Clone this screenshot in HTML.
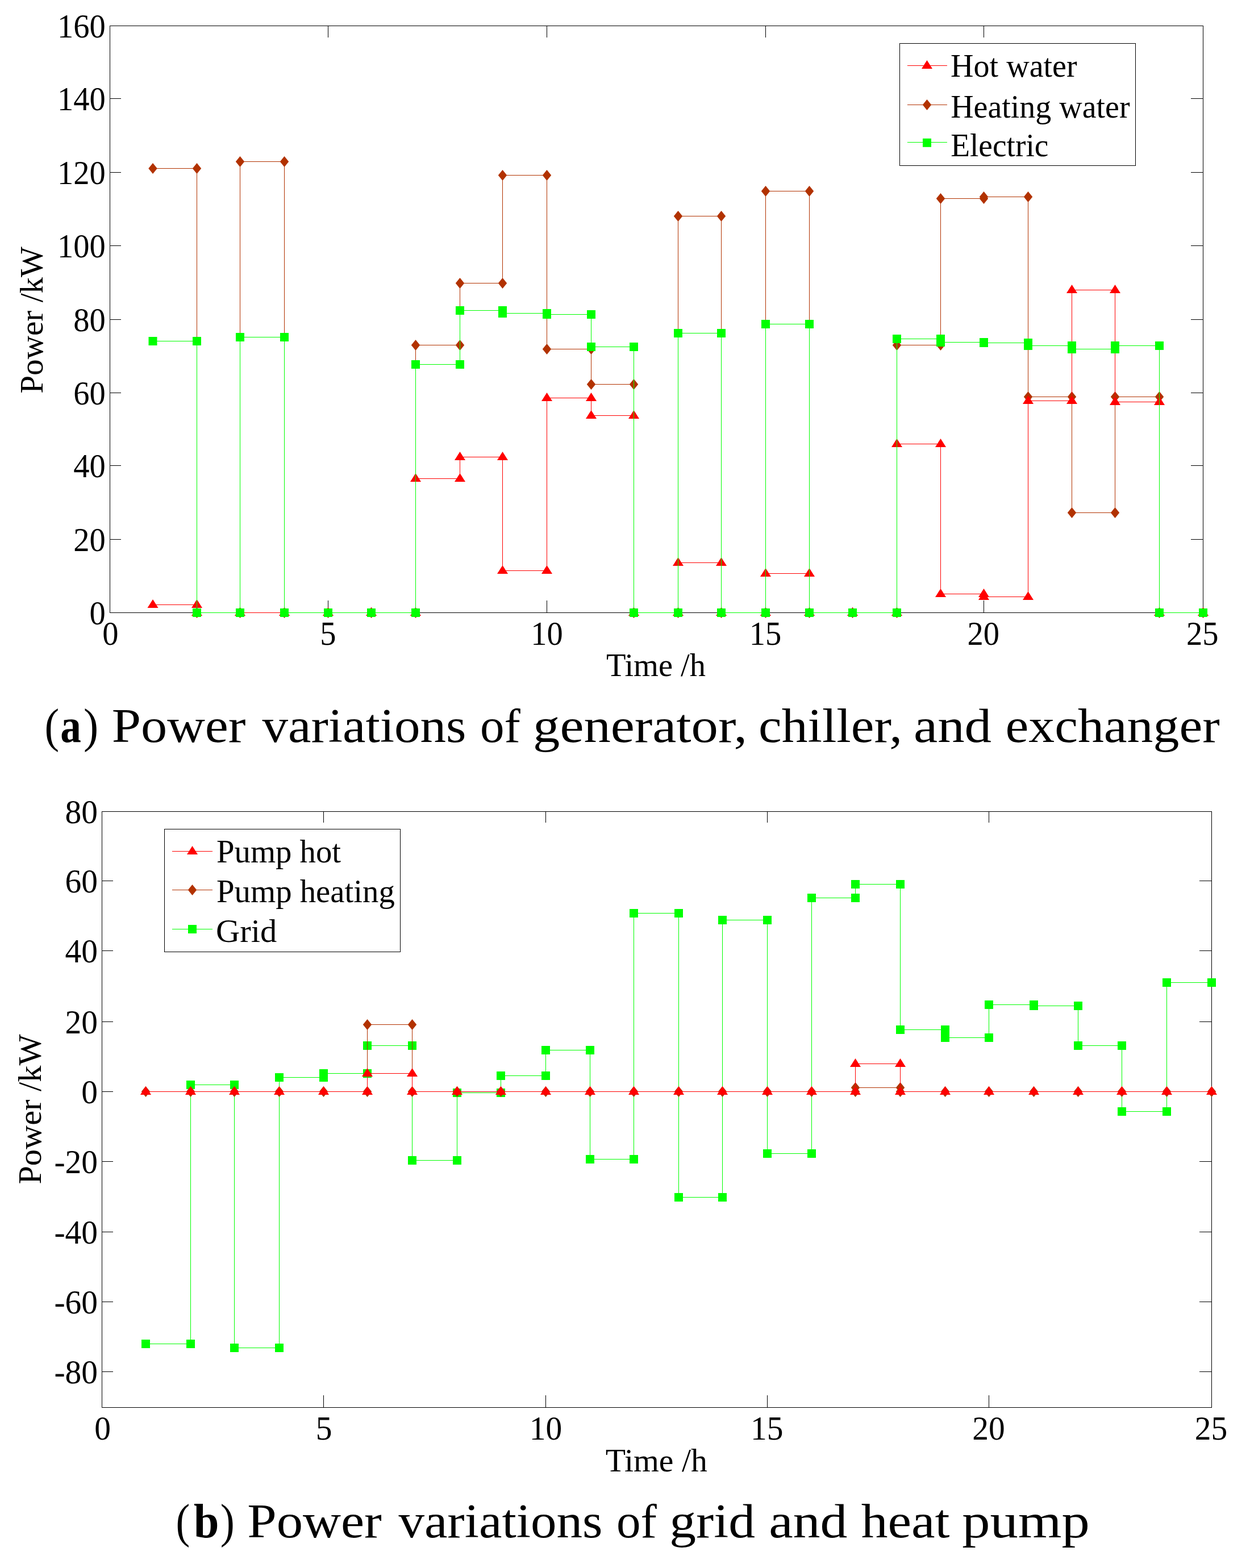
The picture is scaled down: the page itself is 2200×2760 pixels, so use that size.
<!DOCTYPE html>
<html lang="en">
<head>
<meta charset="utf-8">
<title>Power variations</title>
<style>
html,body{margin:0;padding:0;background:#fff;}
body{width:2200px;height:2760px;}
svg{display:block;}
text{white-space:pre;}
</style>
</head>
<body>
<svg width="2200" height="2760" viewBox="0 0 2200 2760">
<rect width="2200" height="2760" fill="#fff"/>
<g id="chart-a">
<g stroke="#000" stroke-width="1" fill="none">
<rect x="193.5" y="45.5" width="1924" height="1033"/>
<path d="M577.5 45.5v20.5M577.5 1078.5v-21.5M962.5 45.5v20.5M962.5 1078.5v-21.5M1347.5 45.5v20.5M1347.5 1078.5v-21.5M1731.5 45.5v20.5M1731.5 1078.5v-21.5M193.5 173.5h19.5M2117.5 173.5h-21.5M193.5 303.5h19.5M2117.5 303.5h-21.5M193.5 432.5h19.5M2117.5 432.5h-21.5M193.5 562.5h19.5M2117.5 562.5h-21.5M193.5 691.5h19.5M2117.5 691.5h-21.5M193.5 819.5h19.5M2117.5 819.5h-21.5M193.5 949.5h19.5M2117.5 949.5h-21.5"/>
</g>
<g font-family="'Liberation Serif', serif" font-size="56.5" fill="#000">
<text x="101.02" y="0" transform="translate(0 66) scale(1 1.03)">160</text>
<text x="101.02" y="0" transform="translate(0 194) scale(1 1.03)">140</text>
<text x="101.02" y="0" transform="translate(0 324) scale(1 1.03)">120</text>
<text x="101.02" y="0" transform="translate(0 453) scale(1 1.03)">100</text>
<text x="129.27" y="0" transform="translate(0 583) scale(1 1.03)">80</text>
<text x="129.27" y="0" transform="translate(0 712) scale(1 1.03)">60</text>
<text x="129.27" y="0" transform="translate(0 840) scale(1 1.03)">40</text>
<text x="129.27" y="0" transform="translate(0 970) scale(1 1.03)">20</text>
<text x="157.52" y="0" transform="translate(0 1099) scale(1 1.03)">0</text>
<text x="180.28" y="0" transform="translate(0 1135.45) scale(1 1.03)">0</text>
<text x="563.23" y="0" transform="translate(0 1135.45) scale(1 1.03)">5</text>
<text x="934.28" y="0" transform="translate(0 1135.45) scale(1 1.03)">10</text>
<text x="1318.73" y="0" transform="translate(0 1135.45) scale(1 1.03)">15</text>
<text x="1702.55" y="0" transform="translate(0 1135.45) scale(1 1.03)">20</text>
<text x="2088.1" y="0" transform="translate(0 1135.45) scale(1 1.03)">25</text>
<text x="1066.92" y="1190" textLength="175.08" lengthAdjust="spacingAndGlyphs">Time /h</text>
<text transform="translate(74.9 692.69) rotate(-90)" textLength="258.76" lengthAdjust="spacingAndGlyphs">Power /kW</text>
</g>
<polyline points="269,296.5 346.5,296.5 346.5,1078.5 422.5,1078.5 422.5,284.5 500.5,284.5 500.5,1078.5 577.5,1078.5 653.5,1078.5 731.5,1078.5 731.5,607.5 809.5,607.5 809.5,498.5 884.5,498.5 884.5,308.5 962.5,308.5 962.5,614.5 1040.5,614.5 1040.5,676.5 1115.5,676.5 1115.5,1078.5 1193.5,1078.5 1193.5,380.5 1269.5,380.5 1269.5,1078.5 1347.5,1078.5 1347.5,336.5 1424.5,336.5 1424.5,1078.5 1500.5,1078.5 1578.5,1078.5 1578.5,607.5 1655.5,607.5 1655.5,349.5 1731.5,349.5 1731.5,346.5 1809.5,346.5 1809.5,698.5 1886.5,698.5 1886.5,902.5 1962.5,902.5 1962.5,698.5 2040.5,698.5 2040.5,1078.5 2117.5,1078.5" fill="none" stroke="#b23200" stroke-width="1"/>
<g fill="#b23200"><path d="M269 286.9l7.7 9.5l-7.7 9.5l-7.7 -9.5z"/><path d="M346.5 286.9l7.7 9.5l-7.7 9.5l-7.7 -9.5z"/><path d="M346.5 1068.9l7.7 9.5l-7.7 9.5l-7.7 -9.5z"/><path d="M422.5 1068.9l7.7 9.5l-7.7 9.5l-7.7 -9.5z"/><path d="M422.5 274.9l7.7 9.5l-7.7 9.5l-7.7 -9.5z"/><path d="M500.5 274.9l7.7 9.5l-7.7 9.5l-7.7 -9.5z"/><path d="M500.5 1068.9l7.7 9.5l-7.7 9.5l-7.7 -9.5z"/><path d="M577.5 1068.9l7.7 9.5l-7.7 9.5l-7.7 -9.5z"/><path d="M653.5 1068.9l7.7 9.5l-7.7 9.5l-7.7 -9.5z"/><path d="M731.5 1068.9l7.7 9.5l-7.7 9.5l-7.7 -9.5z"/><path d="M731.5 597.9l7.7 9.5l-7.7 9.5l-7.7 -9.5z"/><path d="M809.5 597.9l7.7 9.5l-7.7 9.5l-7.7 -9.5z"/><path d="M809.5 488.9l7.7 9.5l-7.7 9.5l-7.7 -9.5z"/><path d="M884.5 488.9l7.7 9.5l-7.7 9.5l-7.7 -9.5z"/><path d="M884.5 298.9l7.7 9.5l-7.7 9.5l-7.7 -9.5z"/><path d="M962.5 298.9l7.7 9.5l-7.7 9.5l-7.7 -9.5z"/><path d="M962.5 604.9l7.7 9.5l-7.7 9.5l-7.7 -9.5z"/><path d="M1040.5 604.9l7.7 9.5l-7.7 9.5l-7.7 -9.5z"/><path d="M1040.5 666.9l7.7 9.5l-7.7 9.5l-7.7 -9.5z"/><path d="M1115.5 666.9l7.7 9.5l-7.7 9.5l-7.7 -9.5z"/><path d="M1115.5 1068.9l7.7 9.5l-7.7 9.5l-7.7 -9.5z"/><path d="M1193.5 1068.9l7.7 9.5l-7.7 9.5l-7.7 -9.5z"/><path d="M1193.5 370.9l7.7 9.5l-7.7 9.5l-7.7 -9.5z"/><path d="M1269.5 370.9l7.7 9.5l-7.7 9.5l-7.7 -9.5z"/><path d="M1269.5 1068.9l7.7 9.5l-7.7 9.5l-7.7 -9.5z"/><path d="M1347.5 1068.9l7.7 9.5l-7.7 9.5l-7.7 -9.5z"/><path d="M1347.5 326.9l7.7 9.5l-7.7 9.5l-7.7 -9.5z"/><path d="M1424.5 326.9l7.7 9.5l-7.7 9.5l-7.7 -9.5z"/><path d="M1424.5 1068.9l7.7 9.5l-7.7 9.5l-7.7 -9.5z"/><path d="M1500.5 1068.9l7.7 9.5l-7.7 9.5l-7.7 -9.5z"/><path d="M1578.5 1068.9l7.7 9.5l-7.7 9.5l-7.7 -9.5z"/><path d="M1578.5 597.9l7.7 9.5l-7.7 9.5l-7.7 -9.5z"/><path d="M1655.5 597.9l7.7 9.5l-7.7 9.5l-7.7 -9.5z"/><path d="M1655.5 339.9l7.7 9.5l-7.7 9.5l-7.7 -9.5z"/><path d="M1731.5 339.9l7.7 9.5l-7.7 9.5l-7.7 -9.5z"/><path d="M1731.5 336.9l7.7 9.5l-7.7 9.5l-7.7 -9.5z"/><path d="M1809.5 336.9l7.7 9.5l-7.7 9.5l-7.7 -9.5z"/><path d="M1809.5 688.9l7.7 9.5l-7.7 9.5l-7.7 -9.5z"/><path d="M1886.5 688.9l7.7 9.5l-7.7 9.5l-7.7 -9.5z"/><path d="M1886.5 892.9l7.7 9.5l-7.7 9.5l-7.7 -9.5z"/><path d="M1962.5 892.9l7.7 9.5l-7.7 9.5l-7.7 -9.5z"/><path d="M1962.5 688.9l7.7 9.5l-7.7 9.5l-7.7 -9.5z"/><path d="M2040.5 688.9l7.7 9.5l-7.7 9.5l-7.7 -9.5z"/><path d="M2040.5 1068.9l7.7 9.5l-7.7 9.5l-7.7 -9.5z"/><path d="M2117.5 1068.9l7.7 9.5l-7.7 9.5l-7.7 -9.5z"/></g>
<polyline points="269,1064.5 346.5,1064.5 346.5,1078.5 422.5,1078.5 500.5,1078.5 577.5,1078.5 653.5,1078.5 731.5,1078.5 731.5,842.5 809.5,842.5 809.5,804.5 884.5,804.5 884.5,1004.5 962.5,1004.5 962.5,700.5 1040.5,700.5 1040.5,731.5 1115.5,731.5 1115.5,1078.5 1193.5,1078.5 1193.5,990.5 1269.5,990.5 1269.5,1078.5 1347.5,1078.5 1347.5,1009.5 1424.5,1009.5 1424.5,1078.5 1500.5,1078.5 1578.5,1078.5 1578.5,781.5 1655.5,781.5 1655.5,1045.5 1731.5,1045.5 1731.5,1050.5 1809.5,1050.5 1809.5,705.5 1886.5,705.5 1886.5,510.5 1962.5,510.5 1962.5,707.5 2040.5,707.5 2040.5,1078.5 2117.5,1078.5" fill="none" stroke="#fff" stroke-width="1"/>
<polyline points="269,1064.5 346.5,1064.5 346.5,1078.5 422.5,1078.5 500.5,1078.5 577.5,1078.5 653.5,1078.5 731.5,1078.5 731.5,842.5 809.5,842.5 809.5,804.5 884.5,804.5 884.5,1004.5 962.5,1004.5 962.5,700.5 1040.5,700.5 1040.5,731.5 1115.5,731.5 1115.5,1078.5 1193.5,1078.5 1193.5,990.5 1269.5,990.5 1269.5,1078.5 1347.5,1078.5 1347.5,1009.5 1424.5,1009.5 1424.5,1078.5 1500.5,1078.5 1578.5,1078.5 1578.5,781.5 1655.5,781.5 1655.5,1045.5 1731.5,1045.5 1731.5,1050.5 1809.5,1050.5 1809.5,705.5 1886.5,705.5 1886.5,510.5 1962.5,510.5 1962.5,707.5 2040.5,707.5 2040.5,1078.5 2117.5,1078.5" fill="none" stroke="#ff0000" stroke-width="1"/>
<g fill="#ff0000"><path d="M269 1055.1l9.5 14.8h-19z"/><path d="M346.5 1055.1l9.5 14.8h-19z"/><path d="M346.5 1069.1l9.5 14.8h-19z"/><path d="M422.5 1069.1l9.5 14.8h-19z"/><path d="M500.5 1069.1l9.5 14.8h-19z"/><path d="M577.5 1069.1l9.5 14.8h-19z"/><path d="M653.5 1069.1l9.5 14.8h-19z"/><path d="M731.5 1069.1l9.5 14.8h-19z"/><path d="M731.5 833.1l9.5 14.8h-19z"/><path d="M809.5 833.1l9.5 14.8h-19z"/><path d="M809.5 795.1l9.5 14.8h-19z"/><path d="M884.5 795.1l9.5 14.8h-19z"/><path d="M884.5 995.1l9.5 14.8h-19z"/><path d="M962.5 995.1l9.5 14.8h-19z"/><path d="M962.5 691.1l9.5 14.8h-19z"/><path d="M1040.5 691.1l9.5 14.8h-19z"/><path d="M1040.5 722.1l9.5 14.8h-19z"/><path d="M1115.5 722.1l9.5 14.8h-19z"/><path d="M1115.5 1069.1l9.5 14.8h-19z"/><path d="M1193.5 1069.1l9.5 14.8h-19z"/><path d="M1193.5 981.1l9.5 14.8h-19z"/><path d="M1269.5 981.1l9.5 14.8h-19z"/><path d="M1269.5 1069.1l9.5 14.8h-19z"/><path d="M1347.5 1069.1l9.5 14.8h-19z"/><path d="M1347.5 1000.1l9.5 14.8h-19z"/><path d="M1424.5 1000.1l9.5 14.8h-19z"/><path d="M1424.5 1069.1l9.5 14.8h-19z"/><path d="M1500.5 1069.1l9.5 14.8h-19z"/><path d="M1578.5 1069.1l9.5 14.8h-19z"/><path d="M1578.5 772.1l9.5 14.8h-19z"/><path d="M1655.5 772.1l9.5 14.8h-19z"/><path d="M1655.5 1036.1l9.5 14.8h-19z"/><path d="M1731.5 1036.1l9.5 14.8h-19z"/><path d="M1731.5 1041.1l9.5 14.8h-19z"/><path d="M1809.5 1041.1l9.5 14.8h-19z"/><path d="M1809.5 696.1l9.5 14.8h-19z"/><path d="M1886.5 696.1l9.5 14.8h-19z"/><path d="M1886.5 501.1l9.5 14.8h-19z"/><path d="M1962.5 501.1l9.5 14.8h-19z"/><path d="M1962.5 698.1l9.5 14.8h-19z"/><path d="M2040.5 698.1l9.5 14.8h-19z"/><path d="M2040.5 1069.1l9.5 14.8h-19z"/><path d="M2117.5 1069.1l9.5 14.8h-19z"/></g>
<polyline points="269,600.5 346.5,600.5 346.5,1078.5 422.5,1078.5 422.5,593.5 500.5,593.5 500.5,1078.5 577.5,1078.5 653.5,1078.5 731.5,1078.5 731.5,641.5 809.5,641.5 809.5,546.5 884.5,546.5 884.5,551.5 962.5,551.5 962.5,553.5 1040.5,553.5 1040.5,610.5 1115.5,610.5 1115.5,1078.5 1193.5,1078.5 1193.5,586.5 1269.5,586.5 1269.5,1078.5 1347.5,1078.5 1347.5,570.5 1424.5,570.5 1424.5,1078.5 1500.5,1078.5 1578.5,1078.5 1578.5,596.5 1655.5,596.5 1655.5,602.5 1731.5,602.5 1731.5,603.5 1809.5,603.5 1809.5,608.5 1886.5,608.5 1886.5,614.5 1962.5,614.5 1962.5,608.5 2040.5,608.5 2040.5,1078.5 2117.5,1078.5" fill="none" stroke="#fff" stroke-width="1"/>
<polyline points="269,600.5 346.5,600.5 346.5,1078.5 422.5,1078.5 422.5,593.5 500.5,593.5 500.5,1078.5 577.5,1078.5 653.5,1078.5 731.5,1078.5 731.5,641.5 809.5,641.5 809.5,546.5 884.5,546.5 884.5,551.5 962.5,551.5 962.5,553.5 1040.5,553.5 1040.5,610.5 1115.5,610.5 1115.5,1078.5 1193.5,1078.5 1193.5,586.5 1269.5,586.5 1269.5,1078.5 1347.5,1078.5 1347.5,570.5 1424.5,570.5 1424.5,1078.5 1500.5,1078.5 1578.5,1078.5 1578.5,596.5 1655.5,596.5 1655.5,602.5 1731.5,602.5 1731.5,603.5 1809.5,603.5 1809.5,608.5 1886.5,608.5 1886.5,614.5 1962.5,614.5 1962.5,608.5 2040.5,608.5 2040.5,1078.5 2117.5,1078.5" fill="none" stroke="#00ff00" stroke-width="1"/>
<g fill="#00ff00"><rect x="261.5" y="593" width="15" height="15"/><rect x="339" y="593" width="15" height="15"/><rect x="339" y="1071" width="15" height="15"/><rect x="415" y="1071" width="15" height="15"/><rect x="415" y="586" width="15" height="15"/><rect x="493" y="586" width="15" height="15"/><rect x="493" y="1071" width="15" height="15"/><rect x="570" y="1071" width="15" height="15"/><rect x="646" y="1071" width="15" height="15"/><rect x="724" y="1071" width="15" height="15"/><rect x="724" y="634" width="15" height="15"/><rect x="802" y="634" width="15" height="15"/><rect x="802" y="539" width="15" height="15"/><rect x="877" y="539" width="15" height="15"/><rect x="877" y="544" width="15" height="15"/><rect x="955" y="544" width="15" height="15"/><rect x="955" y="546" width="15" height="15"/><rect x="1033" y="546" width="15" height="15"/><rect x="1033" y="603" width="15" height="15"/><rect x="1108" y="603" width="15" height="15"/><rect x="1108" y="1071" width="15" height="15"/><rect x="1186" y="1071" width="15" height="15"/><rect x="1186" y="579" width="15" height="15"/><rect x="1262" y="579" width="15" height="15"/><rect x="1262" y="1071" width="15" height="15"/><rect x="1340" y="1071" width="15" height="15"/><rect x="1340" y="563" width="15" height="15"/><rect x="1417" y="563" width="15" height="15"/><rect x="1417" y="1071" width="15" height="15"/><rect x="1493" y="1071" width="15" height="15"/><rect x="1571" y="1071" width="15" height="15"/><rect x="1571" y="589" width="15" height="15"/><rect x="1648" y="589" width="15" height="15"/><rect x="1648" y="595" width="15" height="15"/><rect x="1724" y="595" width="15" height="15"/><rect x="1724" y="596" width="15" height="15"/><rect x="1802" y="596" width="15" height="15"/><rect x="1802" y="601" width="15" height="15"/><rect x="1879" y="601" width="15" height="15"/><rect x="1879" y="607" width="15" height="15"/><rect x="1955" y="607" width="15" height="15"/><rect x="1955" y="601" width="15" height="15"/><rect x="2033" y="601" width="15" height="15"/><rect x="2033" y="1071" width="15" height="15"/><rect x="2110" y="1071" width="15" height="15"/></g>
<rect x="1583.5" y="76.5" width="415" height="215" fill="#fff" stroke="#000" stroke-width="1"/>
<path d="M1597 115.5H1667" stroke="#ff0000" stroke-width="1"/>
<g fill="#ff0000"><path d="M1631.5 106.1l9.5 14.8h-19z"/></g>
<path d="M1597 184.5H1667" stroke="#b23200" stroke-width="1"/>
<g fill="#b23200"><path d="M1631.5 174.9l7.7 9.5l-7.7 9.5l-7.7 -9.5z"/></g>
<path d="M1597 250.5H1667" stroke="#00ff00" stroke-width="1"/>
<g fill="#00ff00"><rect x="1624" y="243.8" width="15" height="15"/></g>
<g font-family="'Liberation Serif', serif" font-size="56.5" fill="#000">
<text x="1673.12" y="135.35" textLength="222.55" lengthAdjust="spacingAndGlyphs">Hot water</text>
<text x="1673.13" y="206.75" textLength="315.45" lengthAdjust="spacingAndGlyphs">Heating water</text>
<text x="1673.13" y="274.75" textLength="172.28" lengthAdjust="spacingAndGlyphs">Electric</text>
</g>
</g>
<text y="1306.1" font-family="'Liberation Serif', serif" font-size="84" fill="#000"><tspan x="78.59" textLength="25.69" lengthAdjust="spacingAndGlyphs">(</tspan><tspan x="106.21" textLength="36.59" lengthAdjust="spacingAndGlyphs" font-weight="bold">a</tspan><tspan x="146.94" textLength="26.2" lengthAdjust="spacingAndGlyphs">)</tspan> <tspan x="196.66" textLength="235.89" lengthAdjust="spacingAndGlyphs">Power</tspan> <tspan x="461.5" textLength="359.01" lengthAdjust="spacingAndGlyphs">variations</tspan> <tspan x="845.04" textLength="70.84" lengthAdjust="spacingAndGlyphs">of</tspan> <tspan x="938.14" textLength="377.17" lengthAdjust="spacingAndGlyphs">generator,</tspan> <tspan x="1335.14" textLength="252.98" lengthAdjust="spacingAndGlyphs">chiller,</tspan> <tspan x="1608.03" textLength="137.07" lengthAdjust="spacingAndGlyphs">and</tspan> <tspan x="1769.53" textLength="377.22" lengthAdjust="spacingAndGlyphs">exchanger</tspan></text>
<g id="chart-b">
<g stroke="#000" stroke-width="1" fill="none">
<rect x="179.5" y="1428.5" width="1953" height="1049"/>
<path d="M569.5 1428.5v19.5M569.5 2477.5v-21.5M960.5 1428.5v19.5M960.5 2477.5v-21.5M1350.5 1428.5v19.5M1350.5 2477.5v-21.5M1740.5 1428.5v19.5M1740.5 2477.5v-21.5M179.5 1550.5h19.5M2132.5 1550.5h-21.5M179.5 1673.5h19.5M2132.5 1673.5h-21.5M179.5 1798.5h19.5M2132.5 1798.5h-21.5M179.5 1921.5h19.5M2132.5 1921.5h-21.5M179.5 2044.5h19.5M2132.5 2044.5h-21.5M179.5 2168.5h19.5M2132.5 2168.5h-21.5M179.5 2291.5h19.5M2132.5 2291.5h-21.5M179.5 2414.5h19.5M2132.5 2414.5h-21.5"/>
</g>
<g font-family="'Liberation Serif', serif" font-size="57.5" fill="#000">
<text x="114.6" y="0" transform="translate(0 1448.8) scale(1 1.03)">80</text>
<text x="114.6" y="0" transform="translate(0 1570.8) scale(1 1.03)">60</text>
<text x="114.6" y="0" transform="translate(0 1693.8) scale(1 1.03)">40</text>
<text x="114.6" y="0" transform="translate(0 1818.8) scale(1 1.03)">20</text>
<text x="143.35" y="0" transform="translate(0 1941.8) scale(1 1.03)">0</text>
<text x="95.45" y="0" transform="translate(0 2064.8) scale(1 1.03)">-20</text>
<text x="95.45" y="0" transform="translate(0 2188.8) scale(1 1.03)">-40</text>
<text x="95.45" y="0" transform="translate(0 2311.8) scale(1 1.03)">-60</text>
<text x="95.45" y="0" transform="translate(0 2434.8) scale(1 1.03)">-80</text>
<text x="166.22" y="0" transform="translate(0 2534.15) scale(1 1.03)">0</text>
<text x="555.68" y="0" transform="translate(0 2534.15) scale(1 1.03)">5</text>
<text x="931.85" y="0" transform="translate(0 2534.15) scale(1 1.03)">10</text>
<text x="1321.05" y="0" transform="translate(0 2534.15) scale(1 1.03)">15</text>
<text x="1711.35" y="0" transform="translate(0 2534.15) scale(1 1.03)">20</text>
<text x="2102.75" y="0" transform="translate(0 2534.15) scale(1 1.03)">25</text>
<text x="1065.7" y="2590" textLength="179.1" lengthAdjust="spacingAndGlyphs">Time /h</text>
<text transform="translate(72.3 2084.61) rotate(-90)" textLength="264.07" lengthAdjust="spacingAndGlyphs">Power /kW</text>
</g>
<polyline points="256.5,2365.5 335.5,2365.5 335.5,1909.5 412.5,1909.5 412.5,2372.5 491.5,2372.5 491.5,1896.5 569.5,1896.5 569.5,1889.5 646.5,1889.5 646.5,1840.5 725.5,1840.5 725.5,2042.5 804.5,2042.5 804.5,1923.5 881.5,1923.5 881.5,1893.5 960.5,1893.5 960.5,1848.5 1038.5,1848.5 1038.5,2040.5 1115.5,2040.5 1115.5,1607.5 1194.5,1607.5 1194.5,2107.5 1271.5,2107.5 1271.5,1619.5 1350.5,1619.5 1350.5,2030.5 1428.5,2030.5 1428.5,1580.5 1505.5,1580.5 1505.5,1556.5 1584.5,1556.5 1584.5,1812.5 1663.5,1812.5 1663.5,1826.5 1740.5,1826.5 1740.5,1768.5 1819.5,1768.5 1819.5,1770.5 1897.5,1770.5 1897.5,1840.5 1974.5,1840.5 1974.5,1956.5 2053.5,1956.5 2053.5,1729.5 2132.5,1729.5" fill="none" stroke="#00ff00" stroke-width="1"/>
<g fill="#00ff00"><rect x="249" y="2358" width="15" height="15"/><rect x="328" y="2358" width="15" height="15"/><rect x="328" y="1902" width="15" height="15"/><rect x="405" y="1902" width="15" height="15"/><rect x="405" y="2365" width="15" height="15"/><rect x="484" y="2365" width="15" height="15"/><rect x="484" y="1889" width="15" height="15"/><rect x="562" y="1889" width="15" height="15"/><rect x="562" y="1882" width="15" height="15"/><rect x="639" y="1882" width="15" height="15"/><rect x="639" y="1833" width="15" height="15"/><rect x="718" y="1833" width="15" height="15"/><rect x="718" y="2035" width="15" height="15"/><rect x="797" y="2035" width="15" height="15"/><rect x="797" y="1916" width="15" height="15"/><rect x="874" y="1916" width="15" height="15"/><rect x="874" y="1886" width="15" height="15"/><rect x="953" y="1886" width="15" height="15"/><rect x="953" y="1841" width="15" height="15"/><rect x="1031" y="1841" width="15" height="15"/><rect x="1031" y="2033" width="15" height="15"/><rect x="1108" y="2033" width="15" height="15"/><rect x="1108" y="1600" width="15" height="15"/><rect x="1187" y="1600" width="15" height="15"/><rect x="1187" y="2100" width="15" height="15"/><rect x="1264" y="2100" width="15" height="15"/><rect x="1264" y="1612" width="15" height="15"/><rect x="1343" y="1612" width="15" height="15"/><rect x="1343" y="2023" width="15" height="15"/><rect x="1421" y="2023" width="15" height="15"/><rect x="1421" y="1573" width="15" height="15"/><rect x="1498" y="1573" width="15" height="15"/><rect x="1498" y="1549" width="15" height="15"/><rect x="1577" y="1549" width="15" height="15"/><rect x="1577" y="1805" width="15" height="15"/><rect x="1656" y="1805" width="15" height="15"/><rect x="1656" y="1819" width="15" height="15"/><rect x="1733" y="1819" width="15" height="15"/><rect x="1733" y="1761" width="15" height="15"/><rect x="1812" y="1761" width="15" height="15"/><rect x="1812" y="1763" width="15" height="15"/><rect x="1890" y="1763" width="15" height="15"/><rect x="1890" y="1833" width="15" height="15"/><rect x="1967" y="1833" width="15" height="15"/><rect x="1967" y="1949" width="15" height="15"/><rect x="2046" y="1949" width="15" height="15"/><rect x="2046" y="1722" width="15" height="15"/><rect x="2125" y="1722" width="15" height="15"/></g>
<polyline points="256.5,1921.5 335.5,1921.5 412.5,1921.5 491.5,1921.5 569.5,1921.5 646.5,1921.5 646.5,1803.5 725.5,1803.5 725.5,1921.5 804.5,1921.5 881.5,1921.5 960.5,1921.5 1038.5,1921.5 1115.5,1921.5 1194.5,1921.5 1271.5,1921.5 1350.5,1921.5 1428.5,1921.5 1505.5,1921.5 1505.5,1914.5 1584.5,1914.5 1584.5,1921.5 1663.5,1921.5 1740.5,1921.5 1819.5,1921.5 1897.5,1921.5 1974.5,1921.5 2053.5,1921.5 2132.5,1921.5" fill="none" stroke="#fff" stroke-width="1"/>
<polyline points="256.5,1921.5 335.5,1921.5 412.5,1921.5 491.5,1921.5 569.5,1921.5 646.5,1921.5 646.5,1803.5 725.5,1803.5 725.5,1921.5 804.5,1921.5 881.5,1921.5 960.5,1921.5 1038.5,1921.5 1115.5,1921.5 1194.5,1921.5 1271.5,1921.5 1350.5,1921.5 1428.5,1921.5 1505.5,1921.5 1505.5,1914.5 1584.5,1914.5 1584.5,1921.5 1663.5,1921.5 1740.5,1921.5 1819.5,1921.5 1897.5,1921.5 1974.5,1921.5 2053.5,1921.5 2132.5,1921.5" fill="none" stroke="#b23200" stroke-width="1"/>
<g fill="#b23200"><path d="M256.5 1911.9l7.7 9.5l-7.7 9.5l-7.7 -9.5z"/><path d="M335.5 1911.9l7.7 9.5l-7.7 9.5l-7.7 -9.5z"/><path d="M412.5 1911.9l7.7 9.5l-7.7 9.5l-7.7 -9.5z"/><path d="M491.5 1911.9l7.7 9.5l-7.7 9.5l-7.7 -9.5z"/><path d="M569.5 1911.9l7.7 9.5l-7.7 9.5l-7.7 -9.5z"/><path d="M646.5 1911.9l7.7 9.5l-7.7 9.5l-7.7 -9.5z"/><path d="M646.5 1793.9l7.7 9.5l-7.7 9.5l-7.7 -9.5z"/><path d="M725.5 1793.9l7.7 9.5l-7.7 9.5l-7.7 -9.5z"/><path d="M725.5 1911.9l7.7 9.5l-7.7 9.5l-7.7 -9.5z"/><path d="M804.5 1911.9l7.7 9.5l-7.7 9.5l-7.7 -9.5z"/><path d="M881.5 1911.9l7.7 9.5l-7.7 9.5l-7.7 -9.5z"/><path d="M960.5 1911.9l7.7 9.5l-7.7 9.5l-7.7 -9.5z"/><path d="M1038.5 1911.9l7.7 9.5l-7.7 9.5l-7.7 -9.5z"/><path d="M1115.5 1911.9l7.7 9.5l-7.7 9.5l-7.7 -9.5z"/><path d="M1194.5 1911.9l7.7 9.5l-7.7 9.5l-7.7 -9.5z"/><path d="M1271.5 1911.9l7.7 9.5l-7.7 9.5l-7.7 -9.5z"/><path d="M1350.5 1911.9l7.7 9.5l-7.7 9.5l-7.7 -9.5z"/><path d="M1428.5 1911.9l7.7 9.5l-7.7 9.5l-7.7 -9.5z"/><path d="M1505.5 1911.9l7.7 9.5l-7.7 9.5l-7.7 -9.5z"/><path d="M1505.5 1904.9l7.7 9.5l-7.7 9.5l-7.7 -9.5z"/><path d="M1584.5 1904.9l7.7 9.5l-7.7 9.5l-7.7 -9.5z"/><path d="M1584.5 1911.9l7.7 9.5l-7.7 9.5l-7.7 -9.5z"/><path d="M1663.5 1911.9l7.7 9.5l-7.7 9.5l-7.7 -9.5z"/><path d="M1740.5 1911.9l7.7 9.5l-7.7 9.5l-7.7 -9.5z"/><path d="M1819.5 1911.9l7.7 9.5l-7.7 9.5l-7.7 -9.5z"/><path d="M1897.5 1911.9l7.7 9.5l-7.7 9.5l-7.7 -9.5z"/><path d="M1974.5 1911.9l7.7 9.5l-7.7 9.5l-7.7 -9.5z"/><path d="M2053.5 1911.9l7.7 9.5l-7.7 9.5l-7.7 -9.5z"/><path d="M2132.5 1911.9l7.7 9.5l-7.7 9.5l-7.7 -9.5z"/></g>
<polyline points="256.5,1921.5 335.5,1921.5 412.5,1921.5 491.5,1921.5 569.5,1921.5 646.5,1921.5 646.5,1889.5 725.5,1889.5 725.5,1921.5 804.5,1921.5 881.5,1921.5 960.5,1921.5 1038.5,1921.5 1115.5,1921.5 1194.5,1921.5 1271.5,1921.5 1350.5,1921.5 1428.5,1921.5 1505.5,1921.5 1505.5,1872.5 1584.5,1872.5 1584.5,1921.5 1663.5,1921.5 1740.5,1921.5 1819.5,1921.5 1897.5,1921.5 1974.5,1921.5 2053.5,1921.5 2132.5,1921.5" fill="none" stroke="#fff" stroke-width="1"/>
<polyline points="256.5,1921.5 335.5,1921.5 412.5,1921.5 491.5,1921.5 569.5,1921.5 646.5,1921.5 646.5,1889.5 725.5,1889.5 725.5,1921.5 804.5,1921.5 881.5,1921.5 960.5,1921.5 1038.5,1921.5 1115.5,1921.5 1194.5,1921.5 1271.5,1921.5 1350.5,1921.5 1428.5,1921.5 1505.5,1921.5 1505.5,1872.5 1584.5,1872.5 1584.5,1921.5 1663.5,1921.5 1740.5,1921.5 1819.5,1921.5 1897.5,1921.5 1974.5,1921.5 2053.5,1921.5 2132.5,1921.5" fill="none" stroke="#ff0000" stroke-width="1"/>
<g fill="#ff0000"><path d="M256.5 1912.1l9.5 14.8h-19z"/><path d="M335.5 1912.1l9.5 14.8h-19z"/><path d="M412.5 1912.1l9.5 14.8h-19z"/><path d="M491.5 1912.1l9.5 14.8h-19z"/><path d="M569.5 1912.1l9.5 14.8h-19z"/><path d="M646.5 1912.1l9.5 14.8h-19z"/><path d="M646.5 1880.1l9.5 14.8h-19z"/><path d="M725.5 1880.1l9.5 14.8h-19z"/><path d="M725.5 1912.1l9.5 14.8h-19z"/><path d="M804.5 1912.1l9.5 14.8h-19z"/><path d="M881.5 1912.1l9.5 14.8h-19z"/><path d="M960.5 1912.1l9.5 14.8h-19z"/><path d="M1038.5 1912.1l9.5 14.8h-19z"/><path d="M1115.5 1912.1l9.5 14.8h-19z"/><path d="M1194.5 1912.1l9.5 14.8h-19z"/><path d="M1271.5 1912.1l9.5 14.8h-19z"/><path d="M1350.5 1912.1l9.5 14.8h-19z"/><path d="M1428.5 1912.1l9.5 14.8h-19z"/><path d="M1505.5 1912.1l9.5 14.8h-19z"/><path d="M1505.5 1863.1l9.5 14.8h-19z"/><path d="M1584.5 1863.1l9.5 14.8h-19z"/><path d="M1584.5 1912.1l9.5 14.8h-19z"/><path d="M1663.5 1912.1l9.5 14.8h-19z"/><path d="M1740.5 1912.1l9.5 14.8h-19z"/><path d="M1819.5 1912.1l9.5 14.8h-19z"/><path d="M1897.5 1912.1l9.5 14.8h-19z"/><path d="M1974.5 1912.1l9.5 14.8h-19z"/><path d="M2053.5 1912.1l9.5 14.8h-19z"/><path d="M2132.5 1912.1l9.5 14.8h-19z"/></g>
<rect x="289.5" y="1459.5" width="415" height="216" fill="#fff" stroke="#000" stroke-width="1"/>
<path d="M303 1498.5H374" stroke="#ff0000" stroke-width="1"/>
<g fill="#ff0000"><path d="M338.5 1489.1l9.5 14.8h-19z"/></g>
<path d="M303 1566.5H374" stroke="#b23200" stroke-width="1"/>
<g fill="#b23200"><path d="M338.5 1556.9l7.7 9.5l-7.7 9.5l-7.7 -9.5z"/></g>
<path d="M303 1635.5H374" stroke="#00ff00" stroke-width="1"/>
<g fill="#00ff00"><rect x="331" y="1628" width="15" height="15"/></g>
<g font-family="'Liberation Serif', serif" font-size="57.5" fill="#000">
<text x="381.01" y="1517.6" textLength="219.09" lengthAdjust="spacingAndGlyphs">Pump hot</text>
<text x="381.01" y="1587.5" textLength="313.87" lengthAdjust="spacingAndGlyphs">Pump heating</text>
<text x="380.07" y="1657.7" textLength="107.13" lengthAdjust="spacingAndGlyphs">Grid</text>
</g>
</g>
<text y="2706.1" font-family="'Liberation Serif', serif" font-size="84" fill="#000"><tspan x="309.48" textLength="24.75" lengthAdjust="spacingAndGlyphs">(</tspan><tspan x="341.1" textLength="44.44" lengthAdjust="spacingAndGlyphs" font-weight="bold">b</tspan><tspan x="387.85" textLength="25.07" lengthAdjust="spacingAndGlyphs">)</tspan> <tspan x="435.25" textLength="236.7" lengthAdjust="spacingAndGlyphs">Power</tspan> <tspan x="701.4" textLength="359.11" lengthAdjust="spacingAndGlyphs">variations</tspan> <tspan x="1085.04" textLength="70.84" lengthAdjust="spacingAndGlyphs">of</tspan> <tspan x="1178.17" textLength="150.83" lengthAdjust="spacingAndGlyphs">grid</tspan> <tspan x="1353.31" textLength="137.99" lengthAdjust="spacingAndGlyphs">and</tspan> <tspan x="1515.7" textLength="155.78" lengthAdjust="spacingAndGlyphs">heat</tspan> <tspan x="1693.26" textLength="224.52" lengthAdjust="spacingAndGlyphs">pump</tspan></text>
</svg>
</body>
</html>
